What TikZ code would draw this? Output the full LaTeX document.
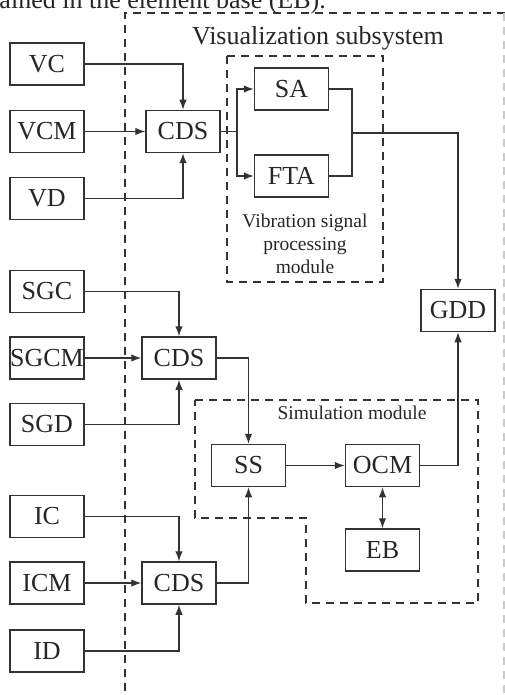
\documentclass[tikz,border=0pt]{standalone}
\usepackage{fontspec}
\setmainfont{Liberation Serif}
\usepackage{tikz}
\usetikzlibrary{arrows.meta}
\usetikzlibrary{calc}
\newcommand*\bigtxt{\fontsize{26}{30}\selectfont}
\newcommand*\smalltxt{\fontsize{19.5}{23}\selectfont}

\begin{document}
\begin{tikzpicture}[x=1pt, y=-1pt, line join=miter,
		blk/.style={draw=black!80, line width=1.5pt, inner sep=0pt,
			minimum width=74pt, minimum height=42pt, font=\bigtxt, text=black!85},
		arr/.style={draw=black!80, line width=1.3pt, -{Latex[length=10pt,width=7.5pt]}},
		lnk/.style={draw=black!80, line width=1.3pt},
		frame/.style={draw=black!80, line width=1.3pt, dash pattern=on 8pt off 6pt}]
		\clip (0,0) rectangle (505,695);
		% caption line cut off above
		\node[anchor=base east, inner sep=0pt, font=\bigtxt, text=black!85] (cap) at (326,9) {ained in the element base (EB).};
		% dashed frames
		\draw[frame] (505,13) -- (125,13) -- (125,700);
		\draw[frame, draw=black!20] (504,13) -- (504,700);
		\draw[frame] (227,56) rectangle (383,282);
		\draw[frame] (195,400) -- (478,400) -- (478,603) -- (306,603) -- (306,518) -- (195,518) -- cycle;
		\node[anchor=base, font=\bigtxt, text=black!85] (vistitle) at (318,45) {Visualization subsystem};
		\node[align=center, font=\smalltxt, text=black!85] (vibtitle) at (305,244) {Vibration signal\\processing\\module};
		\node[anchor=base, font=\smalltxt, text=black!85] (simtitle) at (352,419) {Simulation module};
		% vibration inputs
		\node[blk] (VC) at (47,64) {VC};
		\node[blk] (VCM) at (47,131.5) {VCM};
		\node[blk] (VD) at (47,198.5) {VD};
		\node[blk] (cdsA) at (183,131.5) {CDS};
		\node[blk] (SA) at (291.5,89) {SA};
		\node[blk] (FTA) at (291.5,176) {FTA};
		\node[blk] (GDD) at (458,310.5) {GDD};
		% gear inputs
		\node[blk] (SGC) at (47,291.5) {SGC};
		\node[blk] (SGCM) at (47,358) {SGCM};
		\node[blk] (SGD) at (47,424.5) {SGD};
		\node[blk] (cdsB) at (179,358) {CDS};
		% simulation
		\node[blk] (SS) at (248.5,465.5) {SS};
		\node[blk] (OCM) at (382.5,465.5) {OCM};
		\node[blk] (EB) at (382.5,550) {EB};
		% current inputs
		\node[blk] (IC) at (47,516.5) {IC};
		\node[blk] (ICM) at (47,583) {ICM};
		\node[blk] (ID) at (47,651) {ID};
		\node[blk] (cdsC) at (179,583) {CDS};
		\coordinate (splitA) at (237,131.5);
		\coordinate (mergeA) at (352,133);
		% connections
		\draw[arr] (VC) -| (cdsA);
		\draw[arr] (VCM) -- (cdsA);
		\draw[arr] (VD) -| (cdsA);
		\draw[lnk] (cdsA) -- (splitA);
		\draw[arr] (splitA) |- (SA);
		\draw[arr] (splitA) |- (FTA);
		\draw[lnk] (SA) -| (mergeA) |- (FTA);
		\draw[arr] (mergeA) -| (GDD);
		\draw[arr] (SGC) -| (cdsB);
		\draw[arr] (SGCM) -- (cdsB);
		\draw[arr] (SGD) -| (cdsB);
		\draw[arr] (cdsB) -| (SS);
		\draw[arr] (IC) -| (cdsC);
		\draw[arr] (ICM) -- (cdsC);
		\draw[arr] (ID) -| (cdsC);
		\draw[arr] (cdsC) -| (SS);
		\draw[arr] (SS) -- (OCM);
		\draw[arr, {Latex[length=10pt,width=7.5pt]}-{Latex[length=10pt,width=7.5pt]}] (OCM) -- (EB);
		\draw[arr] (OCM) -| (GDD);
	\end{tikzpicture}
\end{document}
